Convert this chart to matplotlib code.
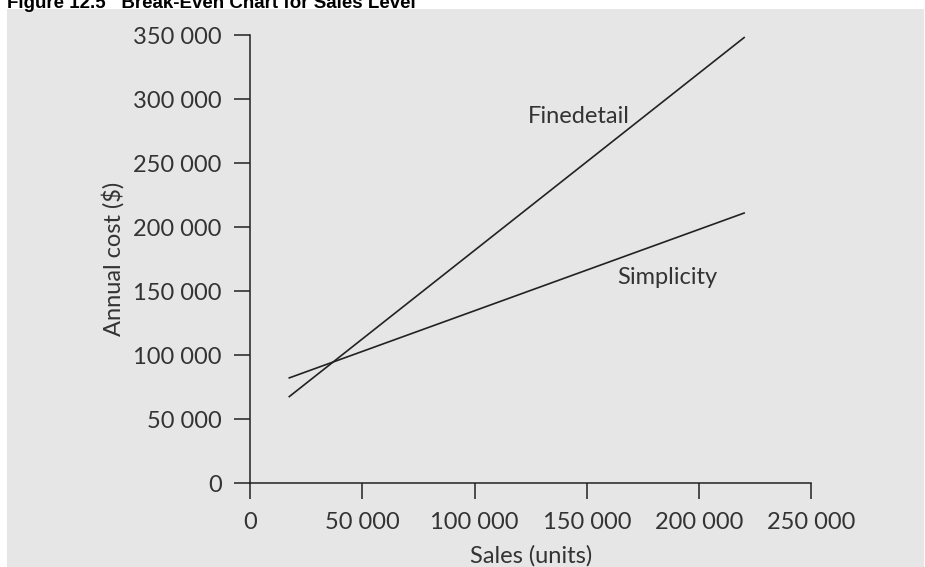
import matplotlib.pyplot as plt
from matplotlib.patches import Rectangle
from matplotlib.ticker import FuncFormatter

sales = [17500, 220000]
finedetail = [67700, 348000]
simplicity = [82300, 211000]
x_ticks = [0, 50000, 100000, 150000, 200000, 250000]
y_ticks = [0, 50000, 100000, 150000, 200000, 250000, 300000, 350000]

plt.rcParams['font.family'] = ['Lato', 'DejaVu Sans']
txt = '#333333'

fig = plt.figure(figsize=(9.25, 5.67), dpi=100, facecolor='white')
fig.patches.append(Rectangle((7 / 925, 0), 917 / 925, 1 - 9 / 567,
                             transform=fig.transFigure, facecolor='#e6e6e6',
                             edgecolor='none', zorder=-5))
fig.text(7 / 925, 1 - 8 / 567, 'Figure 12.5   Break-Even Chart for Sales Level',
         family='Liberation Sans', weight='bold', fontsize=13.5, color='black',
         va='baseline', ha='left')

ax = fig.add_axes([250 / 925, (567 - 483.3) / 567, 561.5 / 925, (483.3 - 35) / 567])
ax.set_facecolor('none')

ax.plot(sales, finedetail, color='#222222', lw=1.2)
ax.plot(sales, simplicity, color='#222222', lw=1.2)

ax.text(146500, 286000, 'Finedetail', fontsize=17, color=txt, ha='center', va='center')
ax.text(186000, 161000, 'Simplicity', fontsize=17, color=txt, ha='center', va='center')

ax.set_xlim(0, 250000)
ax.set_ylim(0, 350000)
ax.set_xticks(x_ticks)
ax.set_yticks(y_ticks)
fmt = FuncFormatter(lambda v, p: f'{int(v):,}'.replace(',', ' '))
ax.xaxis.set_major_formatter(fmt)
ax.yaxis.set_major_formatter(fmt)
ax.tick_params(direction='out', length=11.5, width=1.1, colors='#222222',
               labelcolor=txt, labelsize=17, pad=9)
for s in ['top', 'right']:
    ax.spines[s].set_visible(False)
for s in ['left', 'bottom']:
    ax.spines[s].set_linewidth(1.1)
    ax.spines[s].set_color('#222222')

ax.set_xlabel('Sales (units)', fontsize=17, color=txt, labelpad=9)
ax.set_ylabel('Annual cost ($)', fontsize=17, color=txt, labelpad=6)

fig.savefig('out.png', dpi=100, facecolor='white')
